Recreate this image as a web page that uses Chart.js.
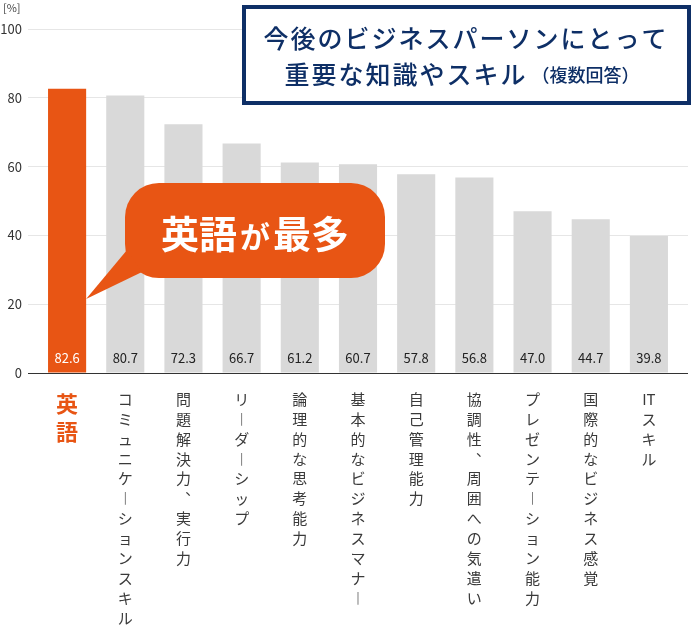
<!DOCTYPE html>
<html>
<head>
<meta charset="utf-8">
<script src="https://cdn.jsdelivr.net/npm/chart.js@4"></script>
<style>
  html, body { margin: 0; padding: 0; background: #fff; }
  #wrap { width: 692px; height: 626px; }
</style>
</head>
<body>
<div id="wrap"><canvas id="chart"></canvas></div>
<script>
const categories = ['英語', 'コミュニケーションスキル', '問題解決力、実行力', 'リーダーシップ', '論理的な思考能力',
  '基本的なビジネスマナー', '自己管理能力', '協調性、周囲への気遣い', 'プレゼンテーション能力', '国際的なビジネス感覚', 'ITスキル'];
const values = [82.6, 80.7, 72.3, 66.7, 61.2, 60.7, 57.8, 56.8, 47.0, 44.7, 39.8];
const yTicks = [0, 20, 40, 60, 80, 100];

const ORANGE = '#e85514';
const NAVY = '#0e2f66';
const FONT = '"Noto Sans CJK JP", "Noto Sans", sans-serif';

// vertical writing: one character per line, latin runs kept together
function toVertical(s) {
  const tokens = s.match(/[A-Za-z0-9]+|./gu);
  return tokens.map(t => t === 'ー' ? '︱' : t === '、' ? '︑' : t);
}

const overlay = {
  id: 'overlay',
  afterDraw(chart) {
    const ctx = chart.ctx;
    const meta = chart.getDatasetMeta(0);
    const y0 = chart.scales.y.getPixelForValue(0);

    // value labels at the foot of each bar
    ctx.save();
    ctx.font = '13px ' + FONT;
    ctx.textAlign = 'center';
    ctx.textBaseline = 'middle';
    meta.data.forEach((bar, i) => {
      ctx.fillStyle = i === 0 ? '#fff' : '#222';
      ctx.fillText(values[i].toFixed(1), bar.x, y0 - 15);
    });
    ctx.restore();

    // unit
    ctx.save();
    ctx.font = '11px ' + FONT;
    ctx.fillStyle = '#444';
    ctx.textBaseline = 'middle';
    ctx.fillText('[%]', 3, 8);
    ctx.restore();

    // callout
    const bx = 125, by = 183, bw = 260, bh = 95, r = 34;
    const tip = meta.data[0];
    ctx.save();
    ctx.fillStyle = ORANGE;
    ctx.beginPath();
    ctx.roundRect(bx, by, bw, bh, r);
    ctx.fill();
    ctx.beginPath();
    ctx.moveTo(127, 250);
    ctx.lineTo(tip.x + 19, chart.scales.y.getPixelForValue(21.5));
    ctx.lineTo(142, 272);
    ctx.closePath();
    ctx.fill();
    ctx.fillStyle = '#fff';
    ctx.textBaseline = 'alphabetic';
    let x = 161;
    const base = 248;
    [['英語', 38], ['が', 30], ['最多', 38]].forEach(([t, s]) => {
      ctx.font = 'bold ' + s + 'px ' + FONT;
      ctx.fillText(t, x, base);
      x += ctx.measureText(t).width + 3;
    });
    ctx.restore();

    // title box
    ctx.save();
    ctx.fillStyle = '#fff';
    ctx.fillRect(244, 7, 445, 96);
    ctx.strokeStyle = NAVY;
    ctx.lineWidth = 4;
    ctx.strokeRect(244, 7, 445, 96);
    ctx.fillStyle = NAVY;
    ctx.textBaseline = 'middle';
    ctx.textAlign = 'center';
    ctx.font = '500 25px ' + FONT;
    ctx.letterSpacing = '2px';
    ctx.fillText('今後のビジネスパーソンにとって', 466, 38);
    ctx.textAlign = 'left';
    const t1 = '重要な知識やスキル';
    const t2 = '（複数回答）';
    const w1 = ctx.measureText(t1).width;
    ctx.font = '500 18px ' + FONT;
    ctx.letterSpacing = '0px';
    const w2 = ctx.measureText(t2).width;
    const sx = 460 - (w1 + w2) / 2;
    ctx.font = '500 25px ' + FONT;
    ctx.letterSpacing = '2px';
    ctx.fillText(t1, sx, 74);
    ctx.font = '500 18px ' + FONT;
    ctx.letterSpacing = '0px';
    ctx.fillText(t2, sx + w1 + 4, 75);
    ctx.restore();
  }
};

new Chart(document.getElementById('chart'), {
  type: 'bar',
  data: {
    labels: categories.map(toVertical),
    datasets: [{
      data: values,
      backgroundColor: values.map((v, i) => i === 0 ? ORANGE : '#d9d9d9'),
      categoryPercentage: 1,
      barPercentage: 0.655
    }]
  },
  options: {
    responsive: true,
    maintainAspectRatio: false,
    animation: false,
    layout: { padding: { top: 29, left: 0, right: 0, bottom: 0 } },
    plugins: { legend: { display: false }, tooltip: { enabled: false } },
    scales: {
      x: {
        grid: { display: false },
        border: { display: true, color: '#333', width: 1 },
        ticks: {
          autoSkip: false,
          maxRotation: 0,
          minRotation: 0,
          padding: 8,
          color: ctx => ctx.index === 0 ? ORANGE : '#3a3a3a',
          font: ctx => ctx.index === 0
            ? { family: FONT, size: 22, weight: 'bold', lineHeight: 1.3 }
            : { family: FONT, size: 15, lineHeight: 1.33 }
        },
        afterFit: s => { s.height = 253; }
      },
      y: {
        min: 0,
        max: 100,
        afterBuildTicks: s => { s.ticks = yTicks.map(v => ({ value: v })); },
        border: { display: false },
        grid: {
          color: ctx => ctx.tick && ctx.tick.value === 0 ? '#333' : '#e6e6e6',
          tickLength: 10
        },
        ticks: { color: '#333', padding: 6, font: { family: FONT, size: 13 } },
        afterFit: s => { s.width = 38; }
      },
      y2: {
        position: 'right',
        min: 0,
        max: 100,
        afterBuildTicks: s => { s.ticks = yTicks.map(v => ({ value: v })); },
        border: { display: false },
        grid: {
          drawOnChartArea: false,
          color: ctx => ctx.tick && ctx.tick.value === 0 ? '#333' : '#e6e6e6',
          tickLength: 10
        },
        ticks: { display: false },
        afterFit: s => { s.width = 14; }
      }
    }
  },
  plugins: [overlay]
});
</script>
</body>
</html>
